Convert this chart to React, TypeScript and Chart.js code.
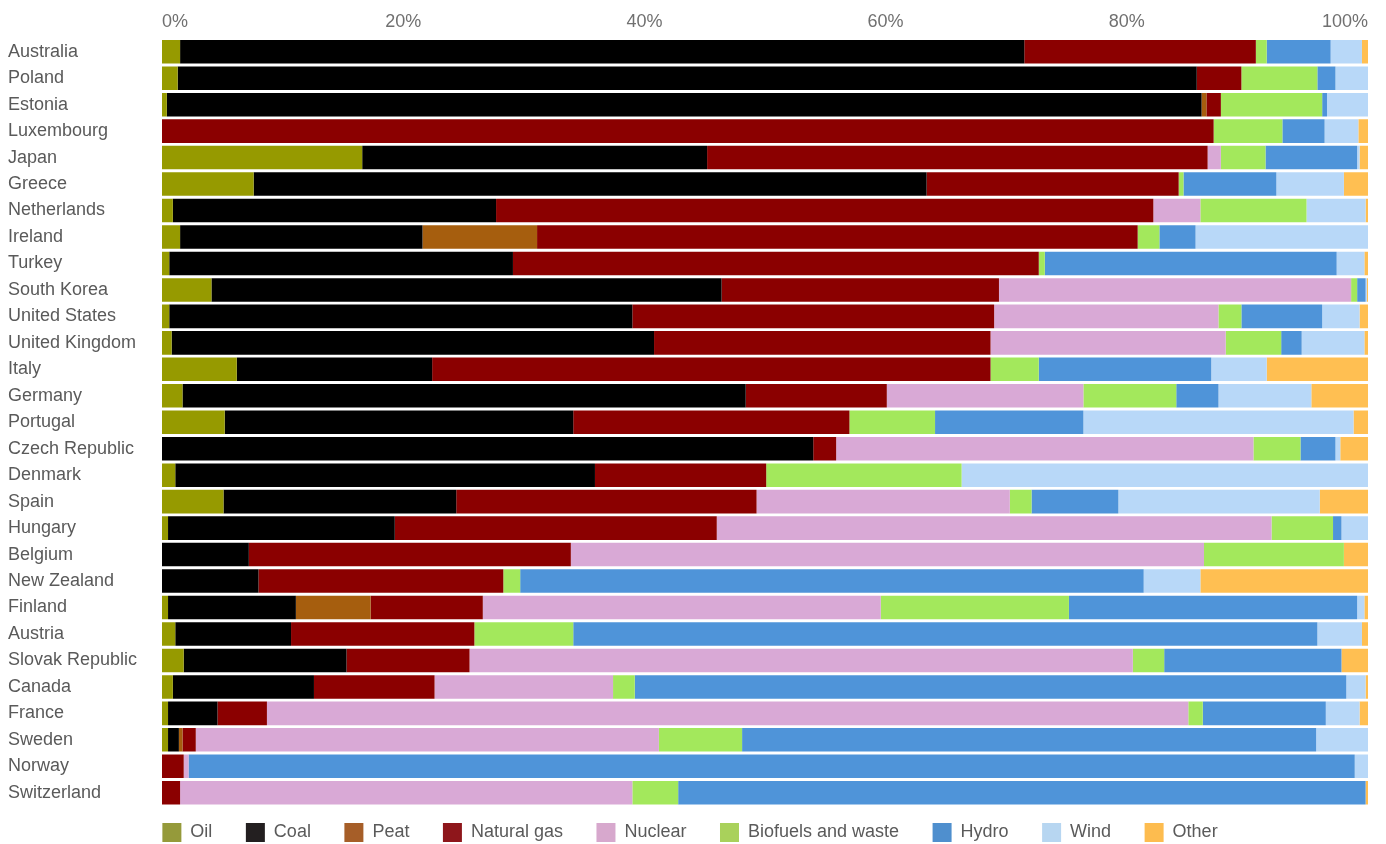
import React, { useEffect, useRef } from "react";
import { Chart, registerables } from "chart.js";

Chart.register(...registerables);

const countries = [
  "Australia", "Poland", "Estonia", "Luxembourg", "Japan", "Greece", "Netherlands", "Ireland",
  "Turkey", "South Korea", "United States", "United Kingdom", "Italy", "Germany", "Portugal",
  "Czech Republic", "Denmark", "Spain", "Hungary", "Belgium", "New Zealand", "Finland", "Austria",
  "Slovak Republic", "Canada", "France", "Sweden", "Norway", "Switzerland",
];

const seriesNames = ["Oil", "Coal", "Peat", "Natural gas", "Nuclear", "Biofuels and waste", "Hydro", "Wind", "Other"];

const oil = [1.5, 1.3, 0.4, 0, 16.6, 7.6, 0.9, 1.5, 0.6, 4.1, 0.6, 0.8, 6.2, 1.7, 5.2, 0, 1.1, 5.1, 0.5, 0, 0, 0.5, 1.1, 1.8, 0.9, 0.5, 0.5, 0, 0];
const coal = [70.0, 84.5, 85.8, 0, 28.6, 55.8, 26.8, 20.1, 28.5, 42.3, 38.4, 40.0, 16.2, 46.7, 28.9, 54.0, 34.8, 19.3, 18.8, 7.2, 8.0, 10.6, 9.6, 13.5, 11.7, 4.1, 0.9, 0, 0];
const peat = [0, 0, 0.4, 0, 0, 0, 0, 9.5, 0, 0, 0, 0, 0, 0, 0, 0, 0, 0, 0, 0, 0, 6.2, 0, 0, 0, 0, 0.3, 0, 0];
const naturalGas = [19.2, 3.7, 1.2, 87.2, 41.5, 20.9, 54.5, 49.8, 43.6, 23.0, 30.0, 27.9, 46.3, 11.7, 22.9, 1.9, 14.2, 24.9, 26.7, 26.7, 20.3, 9.3, 15.2, 10.2, 10.0, 4.1, 1.1, 1.8, 1.5];
const nuclear = [0, 0, 0, 0, 1.1, 0, 3.9, 0, 0, 29.2, 18.6, 19.5, 0, 16.3, 0, 34.6, 0, 21.0, 46.0, 52.5, 0, 33.0, 0, 55.0, 14.8, 76.4, 38.4, 0.4, 37.5];
const biofuels = [0.9, 6.3, 8.4, 5.7, 3.7, 0.4, 8.8, 1.8, 0.5, 0.5, 1.9, 4.6, 4.0, 7.7, 7.1, 3.9, 16.2, 1.8, 5.1, 11.6, 1.4, 15.6, 8.2, 2.6, 1.8, 1.2, 6.9, 0, 3.8];
const hydro = [5.3, 1.5, 0.4, 3.5, 7.6, 7.7, 0, 3.0, 24.2, 0.7, 6.7, 1.7, 14.3, 3.5, 12.3, 2.9, 0, 7.2, 0.7, 0, 51.7, 23.9, 61.7, 14.7, 59.0, 10.2, 47.6, 96.7, 57.0];
const wind = [2.6, 2.7, 3.4, 2.8, 0.2, 5.6, 4.9, 14.3, 2.3, 0.1, 3.1, 5.2, 4.6, 7.7, 22.4, 0.4, 33.7, 16.7, 2.2, 0, 4.7, 0.6, 3.7, 0, 1.6, 2.8, 4.3, 1.1, 0];
const other = [0.5, 0, 0, 0.8, 0.7, 2.0, 0.2, 0, 0.3, 0.1, 0.7, 0.3, 8.4, 4.7, 1.2, 2.3, 0, 4.0, 0, 2.0, 13.9, 0.3, 0.5, 2.2, 0.2, 0.7, 0, 0, 0.2];

const seriesValues = [oil, coal, peat, naturalGas, nuclear, biofuels, hydro, wind, other];

const barColors = ["#969a00", "#000000", "#a65e0e", "#8b0000", "#d9a9d6", "#a3e85c", "#4f94d9", "#b8d8f8", "#ffbf52"];
const legendColors = ["#959a3a", "#231f20", "#a65e28", "#8e161b", "#d7a8cd", "#a9d15b", "#4f8fce", "#b7d6f1", "#fdbc4f"];

const FONT = "'Liberation Sans', Arial, Helvetica, sans-serif";

const legendShift = {
  id: "legendShift",
  afterLayout(chart: any) {
    const lg = chart.legend;
    if (!lg) return;
    const desiredTop = 789.5;
    lg.top = desiredTop;
    lg.bottom = chart.height;
    lg.height = lg.bottom - lg.top;
    lg.left += 2;
    lg.right += 2;
  },
};

export default function App() {
  const canvasRef = useRef<HTMLCanvasElement | null>(null);

  useEffect(() => {
    if (!canvasRef.current) return;
    const chart = new Chart(canvasRef.current, {
      type: "bar",
      data: {
        labels: countries,
        datasets: seriesNames.map((name, i) => ({
          label: name,
          data: seriesValues[i],
          backgroundColor: barColors[i],
          borderWidth: 0,
          categoryPercentage: 1,
          barPercentage: 0.89,
        })),
      },
      options: {
        indexAxis: "y",
        animation: false,
        responsive: true,
        maintainAspectRatio: false,
        layout: { padding: { left: 8, right: 18, top: 0, bottom: 0 } },
        scales: {
          x: {
            position: "top",
            stacked: true,
            min: 0,
            max: 100,
            grid: { display: false, drawTicks: false },
            border: { display: false },
            ticks: {
              stepSize: 20,
              align: "inner",
              padding: 6,
              color: "#707070",
              font: { family: FONT, size: 18 },
              callback: (v: any) => v + "%",
            },
            afterFit: (s: any) => {
              s.height = 38.5;
            },
          },
          y: {
            stacked: true,
            grid: { display: false, drawTicks: false },
            border: { display: false },
            ticks: {
              crossAlign: "far",
              color: "#5a5a5a",
              font: { family: FONT, size: 18 },
              autoSkip: false,
            },
            afterFit: (s: any) => {
              s.width = 154;
            },
          },
        },
        plugins: {
          tooltip: { enabled: false },
          legend: {
            position: "bottom",
            align: "center",
            maxHeight: 38,
            labels: {
              boxWidth: 19,
              boxHeight: 19,
              padding: 33.5,
              color: "#5a5a5a",
              font: { family: FONT, size: 18 },
              generateLabels: (c: any) => {
                const items = Chart.defaults.plugins.legend.labels.generateLabels(c);
                return items.map((it: any, i: number) => ({
                  ...it,
                  fillStyle: legendColors[i],
                  strokeStyle: legendColors[i],
                  lineWidth: 0,
                }));
              },
            },
          },
        },
      },
      plugins: [legendShift],
    } as any);
    return () => chart.destroy();
  }, []);

  return (
    <div style={{ position: "fixed", left: 0, top: 0, width: 1386, height: 844, background: "#fff" }}>
      <canvas ref={canvasRef} />
    </div>
  );
}
